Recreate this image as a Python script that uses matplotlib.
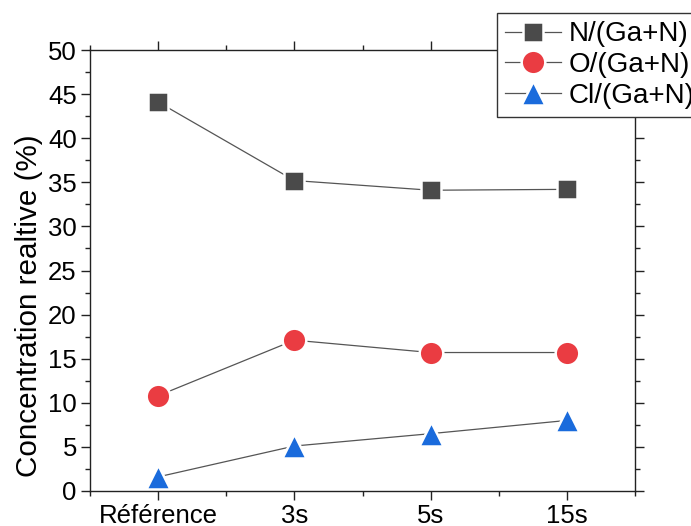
import matplotlib
matplotlib.use("Agg")
import matplotlib.pyplot as plt
from matplotlib.ticker import MultipleLocator

plt.rcParams['font.family'] = ['Liberation Sans', 'DejaVu Sans']

# donnees
echantillons = ['Référence', '3s', '5s', '15s']
n_ga_n = [44.1, 35.2, 34.1, 34.2]
o_ga_n = [10.8, 17.1, 15.7, 15.7]
cl_ga_n = [1.6, 5.1, 6.5, 8.0]

x = list(range(1, len(echantillons) + 1))

fig = plt.figure(figsize=(6.91, 5.26), dpi=100)
ax = fig.add_axes([90 / 691, 35 / 526, 545 / 691, 441 / 526])

ligne = dict(color='#555555', lw=0.9, markeredgecolor='white', markeredgewidth=1.8)
ax.plot(x, n_ga_n, marker='s', ms=14, markerfacecolor='#4a4a4a', label='N/(Ga+N)', **ligne)
ax.plot(x, o_ga_n, marker='o', ms=17, markerfacecolor='#ea3c42', label='O/(Ga+N)', **ligne)
ax.plot(x, cl_ga_n, marker='^', ms=17.5, markerfacecolor='#1a6bdc', label='Cl/(Ga+N)', **ligne)

ax.set_xlim(0.5, 4.5)
ax.set_ylim(0, 50)
ax.set_xticks(x)
ax.set_xticklabels(echantillons)
ax.xaxis.set_minor_locator(MultipleLocator(0.5))
ax.yaxis.set_major_locator(MultipleLocator(5))
ax.yaxis.set_minor_locator(MultipleLocator(2.5))

ax.tick_params(which='both', direction='out', top=True, right=True,
               width=1.0, color='#222222', labelsize=18.5, pad=3)
ax.tick_params(which='major', length=6.5)
ax.tick_params(which='minor', length=3.5)
for s in ax.spines.values():
    s.set_linewidth(1.0)
    s.set_color('#222222')

ax.set_ylabel('Concentration realtive (%)', fontsize=21.3)
ax.yaxis.set_label_coords(-0.086, 0.42)

leg = fig.legend(loc='upper left', bbox_to_anchor=(497 / 691, 1 - 13 / 526),
                 fontsize=20, frameon=True, fancybox=False, framealpha=1,
                 edgecolor='#333333', handlelength=2.0, handletextpad=0.28,
                 labelspacing=0.17, borderpad=0.3, borderaxespad=0)
leg.get_frame().set_linewidth(1.0)

fig.savefig('out.png', dpi=100)
